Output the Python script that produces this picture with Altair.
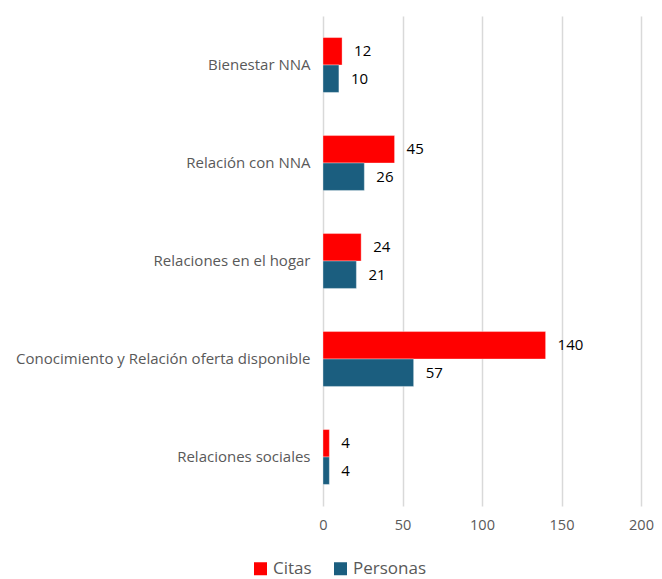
import altair as alt
import pandas as pd

categories = ["Bienestar NNA", "Relación con NNA", "Relaciones en el hogar",
              "Conocimiento y Relación oferta disponible", "Relaciones sociales"]
citas = [12, 45, 24, 140, 4]
personas = [10, 26, 21, 57, 4]
series = ["Citas", "Personas"]
colors = ["#FF0000", "#1B5E7F"]

rows = []
for c, a, b in zip(categories, citas, personas):
    rows.append({"cat": c, "serie": "Citas", "val": a})
    rows.append({"cat": c, "serie": "Personas", "val": b})
df = pd.DataFrame(rows)

FONT = "Open Sans"

y = alt.Y("cat:N", sort=categories, title=None,
          scale=alt.Scale(paddingInner=0.44, paddingOuter=0.22),
          axis=alt.Axis(ticks=False, domain=False, labelFontSize=15, labelColor="#595959",
                        labelFont=FONT, labelPadding=13, labelLimit=400))
x = alt.X("val:Q", title=None, scale=alt.Scale(domain=[0, 200], nice=False),
          axis=alt.Axis(values=[0, 50, 100, 150, 200], ticks=False, domain=False,
                        labelFontSize=14.5, labelColor="#595959", labelFont=FONT,
                        labelFlush=False, labelPadding=12, grid=True,
                        gridColor="#D9D9D9", gridWidth=1.5))
color = alt.Color("serie:N", scale=alt.Scale(domain=series, range=colors),
                  legend=alt.Legend(title=None, orient="none", direction="horizontal",
                                    legendX=-71, legendY=544, symbolType="square",
                                    symbolSize=169, symbolStrokeWidth=0,
                                    labelFontSize=17, labelFont=FONT, labelColor="#595959",
                                    columnPadding=20, labelOffset=4, padding=0))
yoff = alt.YOffset("serie:N", sort=series)

bars = alt.Chart(df).mark_bar(stroke="white", strokeOpacity=0.35, strokeWidth=1).encode(
    y=y, x=x, color=color, yOffset=yoff)
labels = alt.Chart(df).mark_text(align="left", dx=12, fontSize=15, font=FONT, color="#000000").encode(
    y=y, x=x, yOffset=yoff, text="val:Q")

chart = (bars + labels).properties(
    width=318, height=490,
    autosize=alt.AutoSizeParams(type="none"),
    padding={"left": 315, "top": 8, "right": 13, "bottom": 72},
).configure_view(stroke=None)

chart.save("out.html", embed_options={"renderer": "svg", "actions": False})
